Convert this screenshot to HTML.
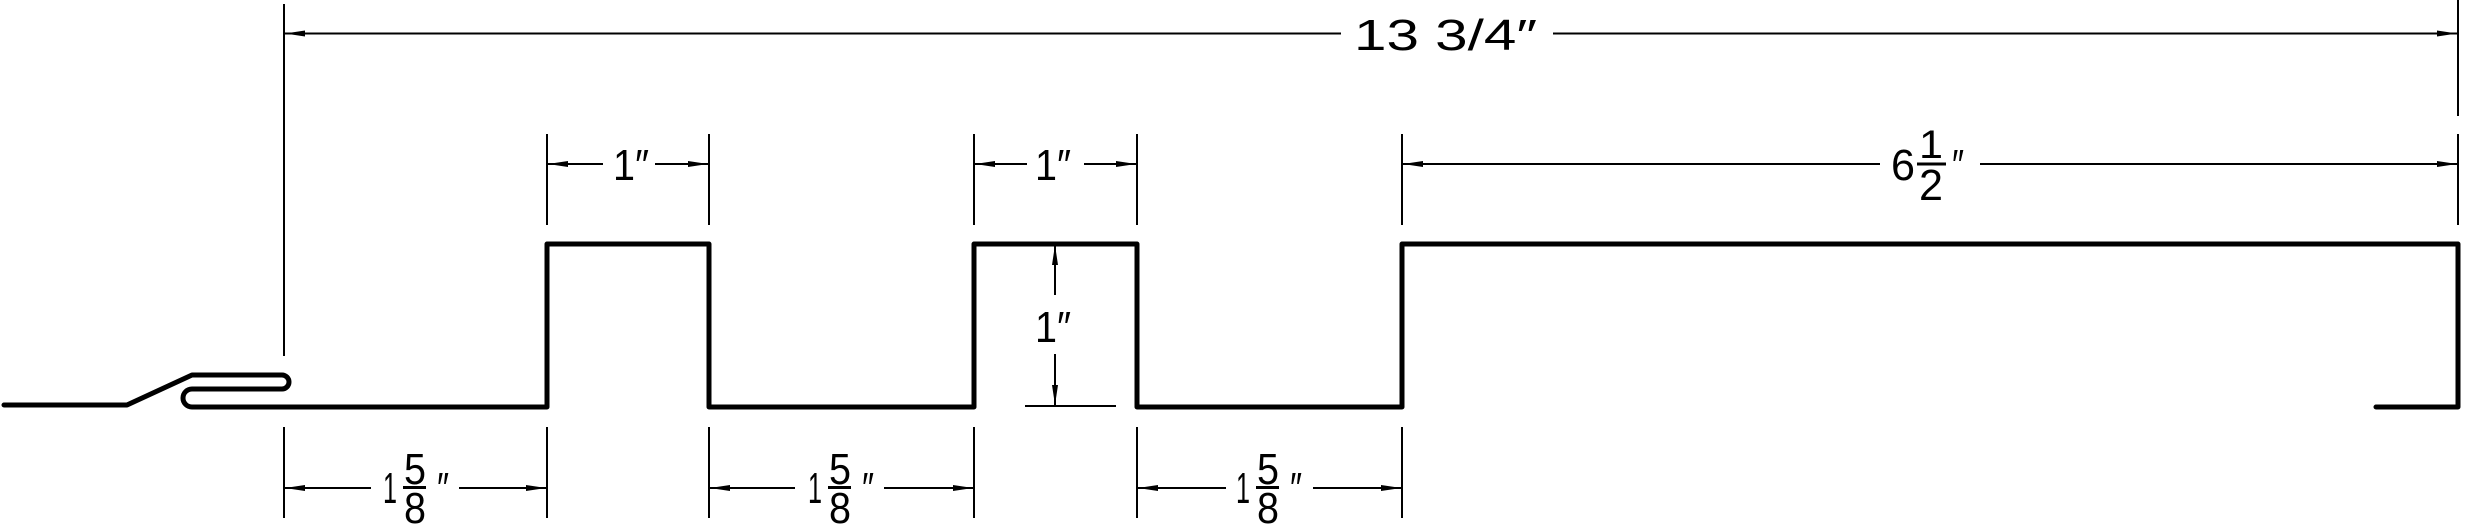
<!DOCTYPE html>
<html><head><style>html,body{margin:0;padding:0;background:#fff}svg{display:block}</style></head><body>
<svg width="2466" height="526" viewBox="0 0 2466 526" xmlns="http://www.w3.org/2000/svg">
<defs>
<marker id="a" viewBox="0 0 20 6" refX="20" refY="3" markerWidth="20" markerHeight="6" markerUnits="userSpaceOnUse" orient="auto-start-reverse"><path d="M0,0 L20,3 L0,6 z" fill="#000"/></marker>
</defs>
<g stroke="#000" stroke-width="2" fill="none">
<!-- extension lines -->
<line x1="284" y1="4" x2="284" y2="356"/>
<line x1="2458" y1="0" x2="2458" y2="116"/>
<line x1="2458" y1="134" x2="2458" y2="225"/>
<line x1="547" y1="134" x2="547" y2="225"/>
<line x1="709" y1="134" x2="709" y2="225"/>
<line x1="974" y1="134" x2="974" y2="225"/>
<line x1="1137" y1="134" x2="1137" y2="225"/>
<line x1="1402" y1="134" x2="1402" y2="225"/>
<line x1="284" y1="427" x2="284" y2="518"/>
<line x1="547" y1="427" x2="547" y2="518"/>
<line x1="709" y1="427" x2="709" y2="518"/>
<line x1="974" y1="427" x2="974" y2="518"/>
<line x1="1137" y1="427" x2="1137" y2="518"/>
<line x1="1402" y1="427" x2="1402" y2="518"/>
<!-- dim lines -->
<line x1="1341" y1="33.5" x2="285" y2="33.5" marker-end="url(#a)"/>
<line x1="1553" y1="33.5" x2="2457" y2="33.5" marker-end="url(#a)"/>
<line x1="603" y1="164" x2="548" y2="164" marker-end="url(#a)"/>
<line x1="655" y1="164" x2="708" y2="164" marker-end="url(#a)"/>
<line x1="1027" y1="164" x2="975" y2="164" marker-end="url(#a)"/>
<line x1="1084" y1="164" x2="1136" y2="164" marker-end="url(#a)"/>
<line x1="1880" y1="164" x2="1403" y2="164" marker-end="url(#a)"/>
<line x1="1980" y1="164" x2="2457" y2="164" marker-end="url(#a)"/>
<line x1="1055" y1="295" x2="1055" y2="245" marker-end="url(#a)"/>
<line x1="1055" y1="354" x2="1055" y2="405" marker-end="url(#a)"/>
<line x1="1025" y1="406" x2="1116" y2="406"/>
<line x1="371" y1="488" x2="285" y2="488" marker-end="url(#a)"/>
<line x1="459" y1="488" x2="546" y2="488" marker-end="url(#a)"/>
<line x1="795" y1="488" x2="710" y2="488" marker-end="url(#a)"/>
<line x1="884" y1="488" x2="973" y2="488" marker-end="url(#a)"/>
<line x1="1226" y1="488" x2="1138" y2="488" marker-end="url(#a)"/>
<line x1="1313" y1="488" x2="1401" y2="488" marker-end="url(#a)"/>
</g>
<!-- profile -->
<path d="M4,405 L127,405 L192,375 L282,375 A7,7 0 0 1 282,389 L192,389 A9,9 0 0 0 192,407 L547,407 L547,244 L709,244 L709,407 L974,407 L974,244 L1137,244 L1137,407 L1402,407 L1402,244 L2458,244 L2458,407 L2376,407" stroke="#000" stroke-width="5" fill="none" stroke-linejoin="round" stroke-linecap="round"/>
<g font-family="'Liberation Sans', sans-serif" font-size="44" fill="#000">
<text x="1354" y="50" textLength="183" lengthAdjust="spacingAndGlyphs">13 3/4″</text>
<text x="613" y="180" textLength="36" lengthAdjust="spacingAndGlyphs">1″</text>
<text x="1035" y="180" textLength="36" lengthAdjust="spacingAndGlyphs">1″</text>
<text x="1035" y="342" textLength="36" lengthAdjust="spacingAndGlyphs">1″</text>
<!-- 6 1/2 -->
<text x="1891" y="180" textLength="24" lengthAdjust="spacingAndGlyphs">6</text>
<text x="1919" y="158" font-size="40" textLength="24" lengthAdjust="spacingAndGlyphs">1</text>
<rect x="1917" y="162.5" width="29" height="3"/>
<text x="1919" y="200" font-size="44" textLength="24" lengthAdjust="spacingAndGlyphs">2</text>
<text x="1952" y="180" textLength="12" lengthAdjust="spacingAndGlyphs">″</text>
<!-- 1 5/8 groups -->
<g transform="translate(383,0)">
<text x="0" y="503" textLength="14" lengthAdjust="spacingAndGlyphs">1</text>
<text x="21" y="484" textLength="22" lengthAdjust="spacingAndGlyphs">5</text>
<rect x="20" y="486" width="23" height="3"/>
<text x="21" y="523" textLength="22" lengthAdjust="spacingAndGlyphs">8</text>
<text x="54" y="503" textLength="12" lengthAdjust="spacingAndGlyphs">″</text>
</g>
<g transform="translate(808,0)">
<text x="0" y="503" textLength="14" lengthAdjust="spacingAndGlyphs">1</text>
<text x="21" y="484" textLength="22" lengthAdjust="spacingAndGlyphs">5</text>
<rect x="20" y="486" width="23" height="3"/>
<text x="21" y="523" textLength="22" lengthAdjust="spacingAndGlyphs">8</text>
<text x="54" y="503" textLength="12" lengthAdjust="spacingAndGlyphs">″</text>
</g>
<g transform="translate(1236,0)">
<text x="0" y="503" textLength="14" lengthAdjust="spacingAndGlyphs">1</text>
<text x="21" y="484" textLength="22" lengthAdjust="spacingAndGlyphs">5</text>
<rect x="20" y="486" width="23" height="3"/>
<text x="21" y="523" textLength="22" lengthAdjust="spacingAndGlyphs">8</text>
<text x="54" y="503" textLength="12" lengthAdjust="spacingAndGlyphs">″</text>
</g>
</g>
</svg>
</body></html>
